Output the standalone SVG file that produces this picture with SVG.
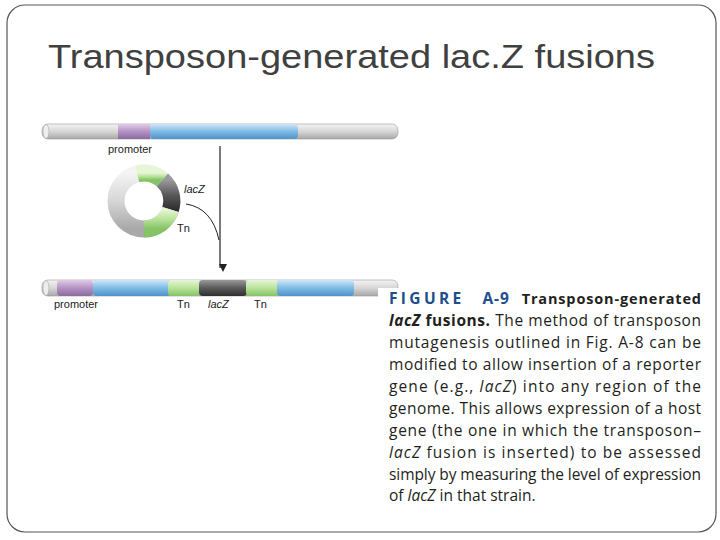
<svg xmlns="http://www.w3.org/2000/svg" width="720" height="540" viewBox="0 0 720 540">
<defs>
<linearGradient id="g" x1="0" y1="0" x2="0" y2="1"><stop offset="0" stop-color="#f4f4f4"/><stop offset="0.5" stop-color="#d6d6d6"/><stop offset="1" stop-color="#a8a8a8"/></linearGradient>
<linearGradient id="b" x1="0" y1="0" x2="0" y2="1"><stop offset="0" stop-color="#cfe6f7"/><stop offset="0.5" stop-color="#7fbbe6"/><stop offset="1" stop-color="#4e92c8"/></linearGradient>
<linearGradient id="p" x1="0" y1="0" x2="0" y2="1"><stop offset="0" stop-color="#e0cbe8"/><stop offset="0.5" stop-color="#b592c4"/><stop offset="1" stop-color="#8a6aa0"/></linearGradient>
<linearGradient id="gr" x1="0" y1="0" x2="0" y2="1"><stop offset="0" stop-color="#e6f6d6"/><stop offset="0.5" stop-color="#b8e39a"/><stop offset="1" stop-color="#86c266"/></linearGradient>
<linearGradient id="k" x1="0" y1="0" x2="0" y2="1"><stop offset="0" stop-color="#9a9a9a"/><stop offset="0.5" stop-color="#5a5a5a"/><stop offset="1" stop-color="#2e2e2e"/></linearGradient>
<marker id="ah" markerWidth="8" markerHeight="8" refX="4" refY="7" orient="auto" markerUnits="userSpaceOnUse"><path d="M0,0 L4,8 L8,0 Z" fill="#222" transform="rotate(-90 4 4)"/></marker>
<style>
.l{font-family:"Liberation Sans",Arial,sans-serif;font-size:11px;fill:#222}
.c{font-family:"Open Sans","Liberation Sans",sans-serif;font-size:15.5px;fill:#231f20}
</style>
</defs>
<rect x="7" y="5" width="709" height="527" rx="18" fill="#fff" stroke="#555" stroke-width="1.2"/>
<text x="48" y="68" font-family="Liberation Sans,Arial,sans-serif" font-size="33" fill="#404040" textLength="607" lengthAdjust="spacingAndGlyphs">Transposon-generated lac.Z fusions</text>
<g id="chromosome-top">
<rect x="42" y="124" width="356" height="15" rx="6" fill="url(#g)" stroke="#999" stroke-width="0.6"/>
<rect x="118" y="124" width="32" height="15" fill="url(#p)"/>
<rect x="150" y="124" width="148" height="15" rx="4" fill="url(#b)"/>
<ellipse cx="46" cy="131.5" rx="3" ry="7" fill="#eee" stroke="#999" stroke-width="0.5"/>
<text class="l" x="108" y="153">promoter</text>
</g>
<g id="plasmid">
<circle cx="144" cy="201" r="28" fill="none" stroke="url(#g)" stroke-width="17"/>
<path d="M137.2,173.8 A28,28 0 0 1 162.4,179.9" fill="none" stroke="url(#gr)" stroke-width="17"/>
<path d="M162.4,179.9 A28,28 0 0 1 170.5,209.5" fill="none" stroke="url(#k)" stroke-width="17"/>
<path d="M170.5,209.5 A28,28 0 0 1 144,229" fill="none" stroke="url(#gr)" stroke-width="17"/>
<text class="l" x="184" y="193" font-style="italic">lacZ</text>
<text class="l" x="177" y="232">Tn</text>
</g>
<g id="chromosome-bottom">
<rect x="42" y="280" width="356" height="16" rx="6" fill="url(#g)" stroke="#999" stroke-width="0.6"/>
<rect x="57" y="280" width="36" height="16" rx="4" fill="url(#p)"/>
<rect x="93" y="280" width="77" height="16" rx="4" fill="url(#b)"/>
<rect x="168" y="280" width="33" height="16" rx="4" fill="url(#gr)"/>
<rect x="199" y="280" width="48" height="16" rx="4" fill="url(#k)"/>
<rect x="246" y="280" width="33" height="16" rx="4" fill="url(#gr)"/>
<rect x="277" y="280" width="77" height="16" rx="4" fill="url(#b)"/>
<ellipse cx="46" cy="288" rx="3" ry="7.5" fill="#eee" stroke="#999" stroke-width="0.5"/>
<text class="l" x="54" y="308">promoter</text>
<text class="l" x="177" y="308">Tn</text>
<text class="l" x="208" y="308" font-style="italic">lacZ</text>
<text class="l" x="254" y="308">Tn</text>
</g>
<g id="connectors">
<line x1="220" y1="146" x2="220" y2="268" stroke="#222" stroke-width="1.2" marker-end="url(#ah)"/>
<path d="M186,204 Q212,208 219,240" fill="none" stroke="#222" stroke-width="1"/>
</g>
<g id="caption">
<rect x="378" y="288" width="330" height="220" fill="#fff"/>
<text class="c" x="389" y="304" textLength="312" lengthAdjust="spacing"><tspan fill="#1f4e8c" font-weight="bold" letter-spacing="2.5">FIGURE</tspan><tspan fill="#1f4e8c" font-weight="bold" dx="18">A-9</tspan><tspan font-weight="bold" font-size="14.5" dx="12">Transposon-generated</tspan></text>
<text class="c" x="389" y="326" textLength="312" lengthAdjust="spacing"><tspan font-weight="bold" font-style="italic">lacZ</tspan><tspan font-weight="bold"> fusions.</tspan> The method of transposon</text>
<text class="c" x="389" y="348" textLength="312" lengthAdjust="spacing">mutagenesis outlined in Fig. A-8 can be</text>
<text class="c" x="389" y="370" textLength="312" lengthAdjust="spacing">modified to allow insertion of a reporter</text>
<text class="c" x="389" y="392" textLength="312" lengthAdjust="spacing">gene (e.g., <tspan font-style="italic">lacZ</tspan>) into any region of the</text>
<text class="c" x="389" y="414" textLength="312" lengthAdjust="spacing">genome. This allows expression of a host</text>
<text class="c" x="389" y="436" textLength="312" lengthAdjust="spacing">gene (the one in which the transposon–</text>
<text class="c" x="389" y="458" textLength="312" lengthAdjust="spacing"><tspan font-style="italic">lacZ</tspan> fusion is inserted) to be assessed</text>
<text class="c" x="389" y="480" textLength="312" lengthAdjust="spacing">simply by measuring the level of expression</text>
<text class="c" x="389" y="501">of <tspan font-style="italic">lacZ</tspan> in that strain.</text>
</g>
</svg>
